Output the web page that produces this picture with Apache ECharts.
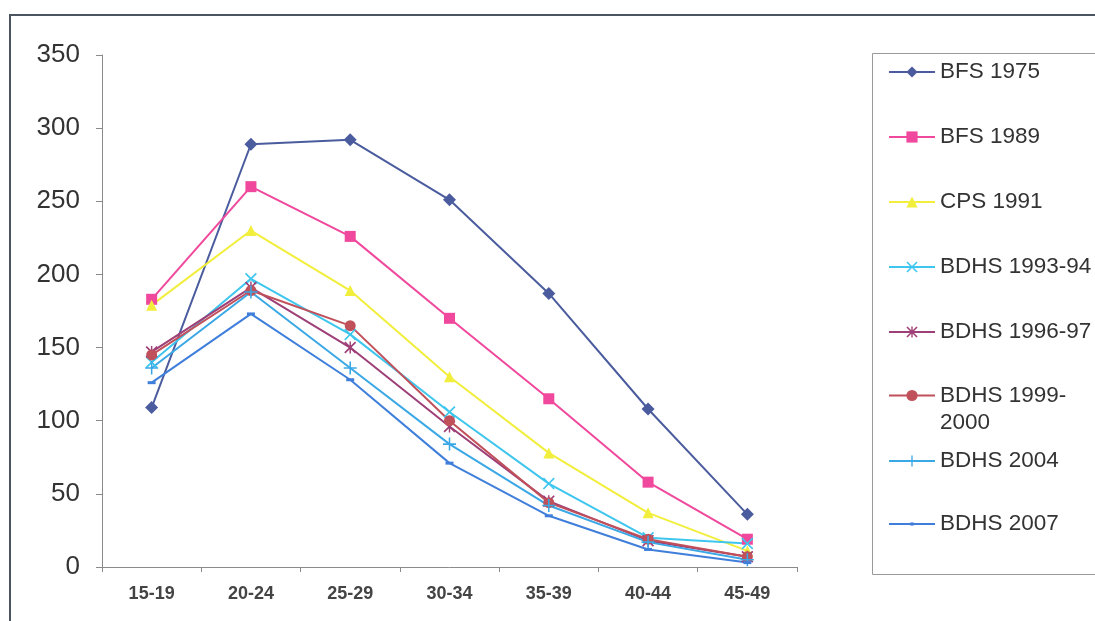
<!DOCTYPE html>
<html>
<head>
<meta charset="utf-8">
<script src="https://cdn.jsdelivr.net/npm/echarts@6/dist/echarts.min.js"></script>
<style>
html,body{margin:0;padding:0;background:#fff;}
#c{width:1095px;height:621px;}
</style>
</head>
<body>
<div id="c"></div>
<script>
var categories = ['15-19','20-24','25-29','30-34','35-39','40-44','45-49'];
var yTicks = [0,50,100,150,200,250,300,350];
var bfs1975  = [109, 289, 292, 251, 187, 108, 36];
var bfs1989  = [183, 260, 226, 170, 115, 58, 19];
var cps1991  = [179, 230, 189, 130, 78, 37, 11];
var bdhs9394 = [140, 197, 159, 106, 57, 20, 16];
var bdhs9697 = [147, 191, 150, 96, 45, 18, 7];
var bdhs9900 = [145, 189, 165, 100, 44, 19, 7];
var bdhs2004 = [136, 188, 136, 84, 42, 17, 5];
var bdhs2007 = [126, 173, 128, 71, 35, 12, 3];
var names = ['BFS 1975','BFS 1989','CPS 1991','BDHS 1993-94','BDHS 1996-97','BDHS 1999-2000','BDHS 2004','BDHS 2007'];

var FONT = '"Liberation Sans", Arial, Helvetica, sans-serif';
var X_SYM = 'path://M0,1L1,0L5,4L9,0L10,1L6,5L10,9L9,10L5,6L1,10L0,9L4,5Z';
var AST_SYM = 'path://M0,1L1,0L5,4L9,0L10,1L6,5L10,9L9,10L5,6L1,10L0,9L4,5Z M4.4,0H5.6V10H4.4Z';
var PLUS_SYM = 'path://M4.4,0H5.6V4.4H10V5.6H5.6V10H4.4V5.6H0V4.4H4.4Z';

function mk(name, data, color, symbol, size) {
  return {
    name: name, type: 'line', data: data,
    symbol: symbol, symbolSize: size,
    lineStyle: {color: color, width: 2},
    itemStyle: {color: color},
    emphasis: {disabled: true},
    animation: false
  };
}

var series = [
  mk(names[0], bfs1975, '#4B5C9E', 'diamond', 13),
  mk(names[1], bfs1989, '#F0489C', 'rect', 11),
  mk(names[2], cps1991, '#F2EE3C', 'triangle', 11),
  mk(names[3], bdhs9394, '#3EC6EE', X_SYM, 12),
  mk(names[4], bdhs9697, '#9E3F77', AST_SYM, 12),
  mk(names[5], bdhs9900, '#C0505A', 'circle', 11),
  mk(names[6], bdhs2004, '#3BA8E6', PLUS_SYM, 13),
  mk(names[7], bdhs2007, '#3F7FDB', 'rect', [8,3])
];

var legendText = {fontFamily: FONT, fontSize: 22.5, color: '#333', lineHeight: 24};
var chart = echarts.init(document.getElementById('c'), null, {renderer: 'canvas'});
chart.setOption({
  animation: false,
  backgroundColor: '#fff',
  grid: {left: 102, right: 298, top: 55, bottom: 54, outerBoundsMode: 'none'},
  xAxis: {
    type: 'category', data: categories, boundaryGap: true,
    axisLine: {lineStyle: {color: '#8a8a8a', width: 1}},
    axisTick: {show: true, length: 5, lineStyle: {color: '#8a8a8a'}},
    axisLabel: {fontFamily: FONT, fontSize: 18, fontWeight: 'bold', color: '#444', margin: 18}
  },
  yAxis: {
    type: 'value', min: yTicks[0], max: yTicks[yTicks.length-1], interval: 50,
    splitLine: {show: false},
    axisLine: {show: true, lineStyle: {color: '#8a8a8a', width: 1}},
    axisTick: {show: true, length: 6, lineStyle: {color: '#8a8a8a'}},
    axisLabel: {fontFamily: FONT, fontSize: 26, color: '#333', margin: 22}
  },
  legend: [
    {
      data: names.slice(0,5), orient: 'vertical', left: 888, top: 60, padding: 0,
      itemWidth: 46, itemHeight: 14, itemGap: 41, selectedMode: false,
      textStyle: legendText
    },
    {
      data: [names[5]], orient: 'vertical', left: 888, top: 355, padding: 0,
      itemWidth: 46, itemHeight: 14, selectedMode: false,
      formatter: function (n) { return '\nBDHS 1999-\n2000'; },
      textStyle: {fontFamily: FONT, fontSize: 22.5, color: '#333', lineHeight: 27}
    },
    {
      data: [names[6]], orient: 'vertical', left: 888, top: 449, padding: 0,
      itemWidth: 46, itemHeight: 14, selectedMode: false,
      textStyle: legendText
    },
    {
      data: [names[7]], orient: 'vertical', left: 888, top: 512, padding: 0,
      itemWidth: 46, itemHeight: 4, selectedMode: false,
      textStyle: legendText
    }
  ],
  graphic: [
    {type: 'rect', silent: true, z: -1, shape: {x: 10, y: 15, width: 1200, height: 800},
     style: {fill: 'none', stroke: '#4a5560', lineWidth: 2}},
    {type: 'rect', silent: true, z: -1, shape: {x: 872.5, y: 53.5, width: 300, height: 521},
     style: {fill: 'none', stroke: '#9a9a9a', lineWidth: 1}}
  ],
  series: series
});
</script>
</body>
</html>
